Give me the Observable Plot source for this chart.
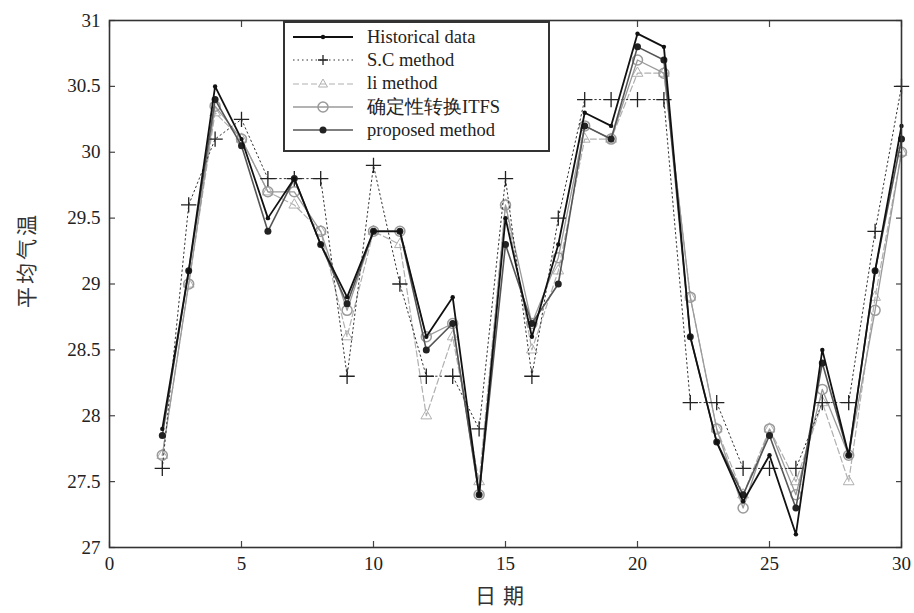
<!DOCTYPE html>
<html><head><meta charset="utf-8">
<script src="https://cdn.jsdelivr.net/npm/d3@7"></script>
<script src="https://cdn.jsdelivr.net/npm/@observablehq/plot@0.6"></script>
<style>
body{margin:0;background:#fff;}
#wrap{position:relative;width:914px;height:613px;}
#legend{position:absolute;left:283px;top:21px;width:267px;height:131px;border:2px solid #333;background:#fff;box-sizing:border-box;font-family:"Liberation Serif","DejaVu Serif",serif;font-size:18.5px;color:#222;}
.row{position:absolute;left:0;height:22px;display:flex;align-items:center;}
.row svg{margin-left:6px;}
.row span{margin-left:12px;white-space:nowrap;}
.title{position:absolute;font-family:"Noto Sans CJK SC",sans-serif;font-size:21px;color:#333;white-space:nowrap;}
#xtitle{left:475px;top:579px;letter-spacing:7px;}
#ytitle{left:25px;top:260px;letter-spacing:3px;transform:translate(-50%,-50%) rotate(-90deg);}
</style>
</head><body>
<div id="wrap"></div>
<script>
const days = [2,3,4,5,6,7,8,9,10,11,12,13,14,15,16,17,18,19,20,21,22,23,24,25,26,27,28,29,30];
const historical = [27.9,29.1,30.5,30.1,29.5,29.8,29.3,28.9,29.4,29.4,28.6,28.9,27.4,29.5,28.6,29.3,30.3,30.2,30.9,30.8,28.6,27.8,27.35,27.7,27.1,28.5,27.7,29.1,30.2];
const scMethod = [27.6,29.6,30.1,30.25,29.8,29.8,29.8,28.3,29.9,29.0,28.3,28.3,27.9,29.8,28.3,29.5,30.4,30.4,30.4,30.4,28.1,28.1,27.6,27.6,27.6,28.1,28.1,29.4,30.5];
const liMethod = [27.7,29.0,30.3,30.1,29.7,29.6,29.4,28.6,29.4,29.3,28.0,28.6,27.5,29.6,28.5,29.1,30.1,30.1,30.6,30.6,28.9,27.9,27.4,27.9,27.5,28.1,27.5,28.9,30.0];
const itfs = [27.7,29.0,30.35,30.1,29.7,29.7,29.4,28.8,29.4,29.4,28.6,28.7,27.4,29.6,28.7,29.2,30.2,30.1,30.7,30.6,28.9,27.9,27.3,27.9,27.4,28.2,27.7,28.8,30.0];
const proposed = [27.85,29.1,30.4,30.05,29.4,29.8,29.3,28.85,29.4,29.4,28.5,28.7,27.4,29.3,28.7,29.0,30.2,30.1,30.8,30.7,28.6,27.8,27.4,27.85,27.3,28.4,27.7,29.1,30.1];
const xTicks = [0,5,10,15,20,25,30];
const yTicks = [27,27.5,28,28.5,29,29.5,30,30.5,31];
const seriesNames = ["Historical data","S.C method","li method","确定性转换ITFS","proposed method"];
const xTitle = "日期";
const yTitle = "平均气温";

const mk = arr => days.map((d,i)=>({day:d, value:arr[i]}));
const H = mk(historical), S = mk(scMethod), L = mk(liMethod), I = mk(itfs), P = mk(proposed);
const noText = () => "";

const chart = Plot.plot({
  width: 914, height: 613,
  marginLeft: 109, marginRight: 13, marginTop: 20, marginBottom: 66,
  x: {domain: [0,30]},
  y: {domain: [27,31]},
  style: {fontFamily: '"Liberation Serif","DejaVu Serif",serif', fontSize: "19px", background: "#fff", color: "#222"},
  marks: [
    Plot.axisX({ticks: xTicks, tickSize: 0, tickPadding: 9, label: null}),
    Plot.axisY({ticks: yTicks, tickSize: 0, tickPadding: 9, tickFormat: d => String(d), label: null}),
    Plot.axisX({anchor: "bottom", ticks: xTicks, tickSize: -6, tickFormat: noText, label: null, stroke: "#444", strokeWidth: 1.2}),
    Plot.axisX({anchor: "top", ticks: xTicks, tickSize: -6, tickFormat: noText, label: null, stroke: "#444", strokeWidth: 1.2}),
    Plot.axisY({anchor: "left", ticks: yTicks, tickSize: -6, tickFormat: noText, label: null, stroke: "#444", strokeWidth: 1.2}),
    Plot.axisY({anchor: "right", ticks: yTicks, tickSize: -6, tickFormat: noText, label: null, stroke: "#444", strokeWidth: 1.2}),
    // li method
    Plot.line(L, {x: "day", y: "value", stroke: "#b0b0b0", strokeWidth: 1.2, strokeDasharray: "6,3"}),
    Plot.dot(L, {x: "day", y: "value", symbol: "triangle", r: 4, stroke: "#b0b0b0", strokeWidth: 1}),
    // ITFS
    Plot.line(I, {x: "day", y: "value", stroke: "#9a9a9a", strokeWidth: 1.3}),
    Plot.dot(I, {x: "day", y: "value", symbol: "circle", r: 5, stroke: "#9a9a9a", strokeWidth: 1.5}),
    // S.C method
    Plot.line(S, {x: "day", y: "value", stroke: "#333", strokeWidth: 1, strokeDasharray: "1.5,3"}),
    Plot.dot(S, {x: "day", y: "value", symbol: "plus", r: 5, stroke: "#222", strokeWidth: 1.3}),
    // proposed
    Plot.line(P, {x: "day", y: "value", stroke: "#555", strokeWidth: 1.6}),
    Plot.dot(P, {x: "day", y: "value", r: 3.5, fill: "#222"}),
    // historical
    Plot.line(H, {x: "day", y: "value", stroke: "#111", strokeWidth: 1.8}),
    Plot.dot(H, {x: "day", y: "value", r: 2.2, fill: "#111"}),
    Plot.frame({stroke: "#333", strokeWidth: 1.6})
  ]
});
const wrap = document.getElementById("wrap");
wrap.appendChild(chart);

// axis titles
const xt = document.createElement("div"); xt.className = "title"; xt.id = "xtitle"; xt.textContent = xTitle; wrap.appendChild(xt);
const yt = document.createElement("div"); yt.className = "title"; yt.id = "ytitle"; yt.textContent = yTitle; wrap.appendChild(yt);

// legend
const legendStyles = [
  {stroke:"#111", w:1.8, dash:null, marker:"dotSmall"},
  {stroke:"#333", w:1, dash:"1.5,3", marker:"plus"},
  {stroke:"#b0b0b0", w:1.2, dash:"6,3", marker:"tri"},
  {stroke:"#9a9a9a", w:1.3, dash:null, marker:"circle"},
  {stroke:"#555", w:1.6, dash:null, marker:"dot"}
];
const leg = document.createElement("div");
leg.id = "legend";
seriesNames.forEach((name,i)=>{
  const s = legendStyles[i];
  const row = document.createElement("div");
  row.className = "row";
  row.style.top = (3 + i*23.3) + "px";
  let m = "";
  if (s.marker==="dotSmall") m = `<circle cx="32" cy="11" r="2.2" fill="#111"/>`;
  if (s.marker==="dot") m = `<circle cx="32" cy="11" r="3.5" fill="#222"/>`;
  if (s.marker==="circle") m = `<circle cx="32" cy="11" r="5" fill="none" stroke="#9a9a9a" stroke-width="1.5"/>`;
  if (s.marker==="plus") m = `<path d="M27 11H37M32 6V16" stroke="#222" stroke-width="1.3"/>`;
  if (s.marker==="tri") m = `<path d="M32 6L36.5 14H27.5Z" fill="none" stroke="#b0b0b0"/>`;
  row.innerHTML = `<svg width="64" height="22"><line x1="2" y1="11" x2="62" y2="11" stroke="${s.stroke}" stroke-width="${s.w}" ${s.dash?`stroke-dasharray="${s.dash}"`:""}/>${m}</svg><span>${name}</span>`;
  leg.appendChild(row);
});
wrap.appendChild(leg);
</script>
</body></html>
